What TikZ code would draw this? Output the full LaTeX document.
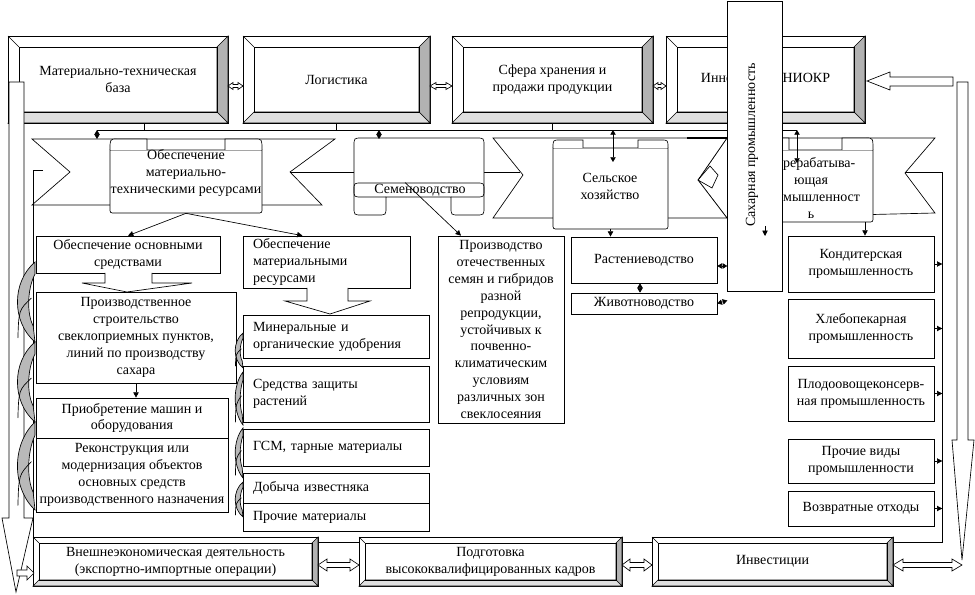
\documentclass[tikz,border=0pt]{standalone}
\usepackage{fontspec}
\setmainfont{Liberation Serif}
\usetikzlibrary{arrows.meta, calc}

\tikzset{
    every node/.style={font=\fontsize{10.5}{12.7}\selectfont, align=center},
    box/.style={draw, fill=white, inner sep=0pt},
    arr/.style={-{Triangle[length=4pt,width=4pt]}},
    dbl/.style={{Triangle[length=3.5pt,width=4pt]}-{Triangle[length=3.5pt,width=4pt]}},
    band/.style={draw, fill=white},
    twist/.style={draw, fill=gray!55},
}

% box given by its corners: [options]{name}{x1}{y1}{x2}{y2}{text}
\newcommand{\bx}[7][]{%
    \node[box, minimum width={(#5-#3)*0.75pt}, minimum height={(#6-#4)*0.75pt}, #1]
        (#2) at ({(#3+#5)/2},{(#4+#6)/2}) {#7};
}
% same, text set flush left
\newcommand{\bxl}[6]{%
    \pgfmathsetlengthmacro\tw{(#4-#2-20)*0.75pt}
    \node[box, minimum width={(#4-#2)*0.75pt}, minimum height={(#5-#3)*0.75pt},
        text width=\tw, align=left]
        (#1) at ({(#2+#4)/2},{(#3+#5)/2}) {#6};
}
% framed box with bevel: {name}{x1}{y1}{x2}{y2}{bevel}{text}
\newcommand{\bevel}[7]{%
    \bx{#1}{#2}{#3}{#4}{#5}{}
    \draw[fill=gray!60] ({#4-#6},{#3+#6}) -- (#4,#3) -- (#4,#5) -- ({#4-#6},{#5-#6}) -- cycle;
    \draw[fill=gray!25] (#2,#5) -- ({#2+#6},{#5-#6}) -- ({#4-#6},{#5-#6}) -- (#4,#5) -- cycle;
    \draw (#2,#3) -- ({#2+#6},{#3+#6});
    \draw ({#2+#6},{#3+#6}) rectangle ({#4-#6},{#5-#6});
    \node at (#1) {#7};
}
% hollow double arrow: {x1}{x2}{y}{shaft}{head}{head length}
\newcommand{\hdbl}[6]{%
    \draw[fill=white] (#1,#3) -- ({#1+#6},{#3-#5}) -- ({#1+#6},{#3-#4}) -- ({#2-#6},{#3-#4})
        -- ({#2-#6},{#3-#5}) -- (#2,#3) -- ({#2-#6},{#3+#5}) -- ({#2-#6},{#3+#4})
        -- ({#1+#6},{#3+#4}) -- ({#1+#6},{#3+#5}) -- cycle;
}
% scroll with two caps on top: {x1}{y1}{x2}{y2}{cap width}{cap top}
\newcommand{\vscroll}[6]{%
    \draw[fill=white] (#1,#2) -- (#1,{#4-5}) .. controls (#1,#4) .. ({#1+5},#4)
        -- ({#3-5},#4) .. controls (#3,#4) .. (#3,{#4-5}) -- (#3,#2) -- cycle;
    \draw[fill=white] (#1,#2) .. controls (#1,#6) .. ({#1+7},#6) -- ({#1+#5},#6) -- ({#1+#5},#2);
    \draw[fill=white] ({#3-#5},#2) -- ({#3-#5},#6) -- ({#3-7},#6) .. controls (#3,#6) .. (#3,#2);
}
% grey curved arrow: {x}{y1}{y2}{depth}
\newcommand{\crsc}[4]{%
    \draw[twist] (#1,#2) .. controls ({#1-#4*1.3},{#2+(#3-#2)*0.25}) and ({#1-#4*1.3},{#3-(#3-#2)*0.25}) .. (#1,#3)
        -- ({#1-#4*0.1},{#3-(#3-#2)*0.2})
        .. controls ({#1-#4*0.45},{#3-(#3-#2)*0.35}) and ({#1-#4*0.45},{#2+(#3-#2)*0.35}) .. (#1,{#2+(#3-#2)*0.15}) -- cycle;
    \draw ({#1-#4*0.2},{#2+(#3-#2)*0.45}) .. controls ({#1-#4*0.9},{#2+(#3-#2)*0.6}) .. ({#1-#4*0.95},{#3-(#3-#2)*0.05});
}

\begin{document}
\begin{tikzpicture}[x=0.75pt, y=-0.75pt, line width=0.5pt]
    \path[fill=white, use as bounding box] (0,0) rectangle (975,595);

    % ribbon
    \draw[band] (32,139) -- (335,139) -- (290,172) -- (322,205) -- (32,205) -- (70,172) -- cycle;
    \draw[band] (698,180) -- (727,138) -- (935,138) -- (905,173) -- (935,213) -- (727,218) -- cycle;
    \draw[band] (493,138) -- (727,138) -- (698,180) -- (727,218) -- (493,218) -- (523,175) -- cycle;
    \draw (698,180) -- (710,166) -- (718,175) -- (712,188) -- cycle;
    \draw[line width=1.2pt] (687,138) -- (727,138);
    \draw (290,172) -- (355,172);
    \draw (484,172) -- (520,172);

    % frame and bus
    \draw (43,170) -- (33,170) -- (33,542) -- (942,542) -- (942,172) -- (905,172);
    \coordinate (busL) at (97,130);
    \coordinate (busR) at (797,130);
    \draw (busL) -- (busR);

    % top row
    \bevel{mtb}{8}{36}{228}{123}{11}{Материально-техническая\\база}
    \bevel{logi}{243}{36}{430}{123}{11}{Логистика}
    \bevel{sfera}{452}{36}{653}{123}{11}{Сфера хранения и\\продажи продукции}
    \bevel{innov}{666}{36}{865}{123}{11}{Инновации и НИОКР}
    \hdbl{228}{243}{86}{1.5}{3.5}{5}
    \hdbl{430}{452}{86}{1.5}{3.5}{6}
    \hdbl{653}{666}{86}{1.5}{3.5}{5}
    \draw (mtb.south) ++(26,0) -- ++(0,7);
    \draw (logi.south) -- ++(0,7);
    \draw (sfera.south) -- ++(0,7);

    % scrolls
    \vscroll{110}{150}{262}{213}{37}{139}
    \bx[draw=none, fill=none]{scr1}{110}{150}{262}{213}{}
    \node at (186,173) {Обеспечение\\материально-\\техническими ресурсами};

    \draw[fill=white] (354,146) .. controls (354,138) .. (362,138) -- (476,138) .. controls (484,138) .. (484,146)
        -- (484,207) .. controls (484,215) .. (476,215) -- (459,215) .. controls (451,215) .. (451,207)
        -- (451,197) -- (386,197) -- (386,207) .. controls (386,215) .. (378,215) -- (362,215)
        .. controls (354,215) .. (354,207) -- cycle;
    \draw (386,197) -- (362,197) .. controls (354,197) .. (354,190) .. controls (354,183) .. (362,183)
        -- (476,183) .. controls (484,183) .. (484,190) .. controls (484,197) .. (476,197) -- (451,197);
    \bx[draw=none, fill=none]{sem}{354}{138}{484}{215}{}
    \node at (420,190) {Семеноводство};

    \vscroll{553}{148}{668}{229}{30}{140}
    \bx[draw=none, fill=none]{scr3}{553}{148}{668}{229}{}
    \node at (610,186) {Сельское\\хозяйство};

    \vscroll{758}{150}{873}{222}{31}{138}
    \bx[draw=none, fill=none]{scr4}{758}{150}{873}{222}{}
    \node at (811,188) {Перерабатыва-\\ющая\\промышленност\\ь};

    % links from the bus
    \draw[dbl] (busL) -- ++(0,9);
    \draw[dbl] (379,130) -- (379,139);
    \draw[dbl] (613,130) -- (613,162);
    \draw[dbl] (busR) -- ++(0,33);

    % left column
    \bx{osn}{36}{236}{220}{273}{Обеспечение основными\\средствами}
    \draw[fill=white] (105,273) -- (105,283) -- (82,283) -- (127,292) -- (192,283) -- (152,283) -- (152,273);
    \bx{stroi}{36}{292}{236}{383}{Производственное\\строительство\\свеклоприемных пунктов,\\линий по производству\\сахара}
    \bx{mash}{36}{398}{228}{438}{Приобретение машин и\\оборудования}
    \bx{rekon}{36}{438}{228}{512}{Реконструкция или\\модернизация объектов\\основных средств\\производственного назначения}
    \draw[arr] (stroi.south) -- (stroi.south |- mash.north);

    % middle column
    \bxl{matres}{243}{236}{410}{288}{Обеспечение\\материальными\\ресурсами}
    \draw[fill=white] (307,288) -- (307,301) -- (285,301) -- (330,314) -- (370,301) -- (348,301) -- (348,288);
    \bxl{udobr}{243}{315}{429}{358}{Минеральные и\\органические удобрения}
    \bxl{szr}{243}{366}{429}{422}{Средства защиты\\растений}
    \bxl{gsm}{243}{429}{429}{466}{ГСМ, тарные материалы}
    \bxl{izv}{243}{473}{429}{503}{Добыча известняка}
    \bxl{proch}{243}{503}{429}{531}{Прочие материалы}

    \draw[arr] (scr1.south) -- (osn.north);
    \draw[arr] (scr1.south) -- ([xshift=-18pt]matres.north);

    % seeds
    \bx{seeds}{438}{236}{564}{423}{Производство\\отечественных\\семян и гибридов\\разной\\репродукции,\\устойчивых к\\почвенно-\\климатическим\\условиям\\различных зон\\свеклосеяния}
    \draw[arr] ($(sem.center)+(-14,6)$) -- ([xshift=-30pt]seeds.north);

    % agriculture
    \bx{rast}{571}{237}{717}{283}{Растениеводство}
    \bx{zhiv}{571}{293}{717}{314}{Животноводство}
    \draw[arr] (scr3.south) -- (scr3.south |- rast.north);
    \draw[dbl] ([xshift=-3pt]rast.south) -- ([xshift=-3pt]zhiv.north);
    \draw[dbl] ([yshift=-4.5pt]rast.east) -- ++(10,0);
    \draw[dbl] (zhiv.east) -- ++(10,-3);

    % processing industry
    \foreach \name/\ya/\yb/\txt in {
        kond/236/292/{Кондитерская\\промышленность},
        hleb/299/358/{Хлебопекарная\\промышленность},
        plod/366/421/{Плодоовощеконсерв-\\ная промышленность},
        prvid/439/483/{Прочие виды\\промышленности},
        othod/491/526/{Возвратные отходы}}{
        \bx{\name}{788}{\ya}{934}{\yb}{\txt}
    }
    \foreach \name in {kond,hleb,plod,prvid,othod}{
        \draw[arr] (\name.east) -- ++(8,0);
    }
    \draw[arr] ([xshift=3pt]kond.north |- scr4.south) -- ([xshift=3pt]kond.north);

    % sugar industry
    \bx{sugar}{727}{1}{782}{291}{}
    \node[rotate=90] at (752,145) {Сахарная промышленность};
    \draw[arr] (765,226) -- (765,236);

    % big hollow arrows
    \draw[fill=white] (9,82) -- (24,82) -- (24,518) -- (33,518) -- (16,592) -- (2,518) -- (9,518) -- cycle;
    \draw[fill=white] (957,82) -- (968,82) -- (968,440) -- (974,440) -- (962,560) -- (952,440) -- (957,440) -- cycle;
    \draw[fill=white] (867,81) -- (890,72) -- (890,77) -- (953,77) -- (953,86) -- (890,86) -- (890,90) -- cycle;

    % bottom row
    \bevel{ved}{33}{537}{318}{586}{6}{Внешнеэкономическая деятельность\\(экспортно-импортные операции)}
    \bevel{kadry}{359}{537}{622}{586}{6}{Подготовка\\высококвалифицированных кадров}
    \bevel{invest}{652}{537}{893}{586}{6}{Инвестиции}
    \hdbl{318}{359}{565}{2.5}{6}{9}
    \hdbl{622}{652}{565}{2.5}{6}{8}
    \hdbl{893}{962}{565}{2.5}{6}{10}
    \draw[fill=white] (17,570) -- (27,570) -- (27,566) -- (34,573) -- (27,580) -- (27,576) -- (17,576) -- cycle;

    % grey curved arrows
    \crsc{35}{262}{342}{18}
    \crsc{35}{342}{422}{18}
    \crsc{35}{422}{510}{18}
    \foreach \ya/\yb in {333/368, 372/425, 428/478, 482/517}{
        \crsc{243}{\ya}{\yb}{8}
    }
\end{tikzpicture}
\end{document}
